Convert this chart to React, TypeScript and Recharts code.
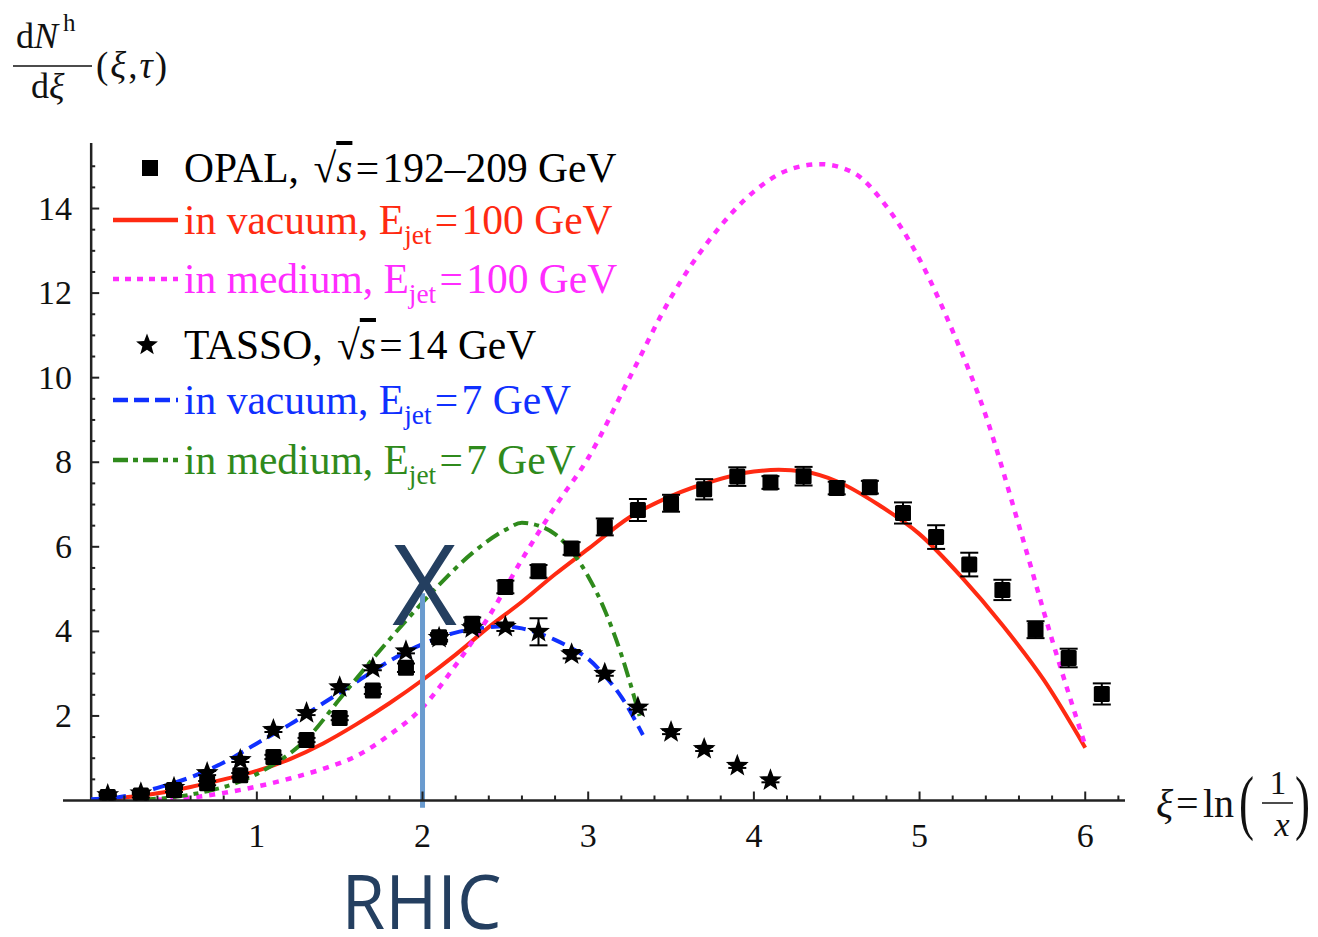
import React from 'react';
import {
  ComposedChart,
  Line,
  Scatter,
  XAxis,
  YAxis,
  ErrorBar,
  ReferenceLine,
  Legend,
  Label,
} from 'recharts';

// OPAL data, sqrt(s) = 192-209 GeV
const opalX = [0.1, 0.3, 0.5, 0.7, 0.9, 1.1, 1.3, 1.5, 1.7, 1.9, 2.1, 2.3, 2.5, 2.7, 2.9, 3.1, 3.3, 3.5, 3.7, 3.9, 4.1, 4.3, 4.5, 4.7, 4.9, 5.1, 5.3, 5.5, 5.7, 5.9, 6.1];
const opalY = [0.08, 0.12, 0.25, 0.41, 0.6, 1.03, 1.43, 1.95, 2.6, 3.14, 3.86, 4.18, 5.05, 5.42, 5.96, 6.47, 6.87, 7.03, 7.36, 7.66, 7.52, 7.67, 7.39, 7.41, 6.8, 6.23, 5.58, 4.98, 4.04, 3.37, 2.52];
const opalErr = [0.05, 0.05, 0.05, 0.05, 0.05, 0.05, 0.05, 0.05, 0.08, 0.1, 0.1, 0.15, 0.15, 0.15, 0.15, 0.2, 0.26, 0.2, 0.24, 0.22, 0.15, 0.22, 0.15, 0.15, 0.25, 0.28, 0.28, 0.24, 0.2, 0.22, 0.25];

// TASSO data, sqrt(s) = 14 GeV
const tassoX = [0.1, 0.3, 0.5, 0.7, 0.9, 1.1, 1.3, 1.5, 1.7, 1.9, 2.1, 2.3, 2.5, 2.7, 2.9, 3.1, 3.3, 3.5, 3.7, 3.9, 4.1];
const tassoY = [0.13, 0.17, 0.3, 0.65, 0.96, 1.67, 2.07, 2.68, 3.13, 3.53, 3.85, 4.08, 4.11, 3.99, 3.46, 3.0, 2.2, 1.62, 1.22, 0.82, 0.48];
const tassoErr = [0.03, 0.03, 0.03, 0.05, 0.05, 0.05, 0.05, 0.05, 0.05, 0.05, 0.05, 0.1, 0.1, 0.32, 0.1, 0.05, 0.05, 0.05, 0.05, 0.05, 0.05];

// in vacuum, Ejet = 100 GeV
const vac100X = [0.05, 0.2, 0.4, 0.6, 0.8, 1.0, 1.2, 1.4, 1.6, 1.8, 2.0, 2.2, 2.4, 2.6, 2.8, 3.0, 3.25, 3.5, 3.75, 4.0, 4.15, 4.3, 4.5, 4.75, 5.0, 5.25, 5.5, 5.75, 6.0];
const vac100Y = [0.0, 0.07, 0.17, 0.32, 0.5, 0.7, 0.98, 1.35, 1.8, 2.3, 2.85, 3.45, 4.1, 4.7, 5.35, 5.95, 6.7, 7.2, 7.55, 7.78, 7.82, 7.78, 7.55, 7.0, 6.3, 5.3, 4.15, 2.85, 1.25];

// in medium, Ejet = 100 GeV
const med100X = [0.4, 0.6, 0.8, 1.0, 1.2, 1.4, 1.6, 1.8, 2.0, 2.2, 2.4, 2.6, 2.8, 3.0, 3.25, 3.5, 3.75, 4.0, 4.2, 4.4, 4.6, 4.8, 5.0, 5.2, 5.4, 5.6, 5.8, 6.0];
const med100Y = [0.02, 0.07, 0.18, 0.33, 0.52, 0.75, 1.05, 1.55, 2.2, 3.2, 4.35, 5.7, 6.95, 8.1, 10.0, 11.9, 13.35, 14.4, 14.9, 15.05, 14.85, 14.05, 12.8, 11.1, 9.1, 6.5, 3.8, 1.3];

// in vacuum, Ejet = 7 GeV
const vac7X = [0.0, 0.2, 0.4, 0.6, 0.8, 1.0, 1.2, 1.4, 1.6, 1.8, 2.0, 2.2, 2.4, 2.5, 2.6, 2.8, 2.9, 3.0, 3.1, 3.2, 3.33];
const vac7Y = [0.03, 0.1, 0.3, 0.55, 0.9, 1.35, 1.8, 2.3, 2.8, 3.3, 3.7, 3.97, 4.1, 4.12, 4.07, 3.8, 3.6, 3.35, 2.95, 2.45, 1.55];

// in medium, Ejet = 7 GeV
const med7X = [0.3, 0.5, 0.7, 0.9, 1.1, 1.3, 1.5, 1.7, 1.9, 2.1, 2.3, 2.5, 2.6, 2.7, 2.8, 2.9, 3.0, 3.1, 3.2, 3.31];
const med7Y = [0.02, 0.08, 0.22, 0.45, 0.85, 1.45, 2.4, 3.35, 4.25, 5.1, 5.85, 6.4, 6.57, 6.5, 6.3, 5.9, 5.3, 4.5, 3.45, 2.0];

const xTicks = [0.2, 0.4, 0.6, 0.8, 1, 1.2, 1.4, 1.6, 1.8, 2, 2.2, 2.4, 2.6, 2.8, 3, 3.2, 3.4, 3.6, 3.8, 4, 4.2, 4.4, 4.6, 4.8, 5, 5.2, 5.4, 5.6, 5.8, 6, 6.2];
const yTicks = [0.5, 1, 1.5, 2, 2.5, 3, 3.5, 4, 4.5, 5, 5.5, 6, 6.5, 7, 7.5, 8, 8.5, 9, 9.5, 10, 10.5, 11, 11.5, 12, 12.5, 13, 13.5, 14, 14.5, 15];

const rhicX = 2;

const pts = (xs: number[], ys: number[], errs?: number[]) =>
  xs.map((x, i) => ({ x, y: ys[i], err: errs ? errs[i] : 0 }));

const opalData = pts(opalX, opalY, opalErr);
const tassoData = pts(tassoX, tassoY, tassoErr);
const vac100Data = pts(vac100X, vac100Y);
const med100Data = pts(med100X, med100Y);
const vac7Data = pts(vac7X, vac7Y);
const med7Data = pts(med7X, med7Y);

const serif = '"Liberation Serif", "Times New Roman", serif';
const RED = '#ff2a12';
const MAGENTA = '#ff2cff';
const BLUE = '#1030ff';
const GREEN = '#2f8a1c';
const NAVY = '#243f60';
const Y_AXIS_OFFSET = 28.2;

const starPoints = (cx: number, cy: number, r: number) => {
  const p: string[] = [];
  for (let k = 0; k < 10; k++) {
    const rr = k % 2 === 0 ? r : r * 0.42;
    const a = -Math.PI / 2 + (k * Math.PI) / 5;
    p.push(`${cx + rr * Math.cos(a)},${cy + rr * Math.sin(a)}`);
  }
  return p.join(' ');
};

const SquareShape = (p: any) => (
  <rect x={p.cx - 8} y={p.cy - 8} width={16} height={16} rx={1.5} fill="#000" />
);
const StarShape = (p: any) => <polygon points={starPoints(p.cx, p.cy, 12)} fill="#000" />;

function XTick(props: any) {
  const { x, y, payload } = props;
  const v = payload.value;
  const major = Math.abs(v - Math.round(v)) < 1e-6;
  return (
    <g>
      <line x1={x} x2={x} y1={y} y2={y - (major ? 9 : 5)} stroke="#222" strokeWidth={2} />
      {major && (
        <text x={x} y={y + 46} textAnchor="middle" style={{ fontFamily: serif }} fontSize={34} fill="#111">
          {Math.round(v)}
        </text>
      )}
    </g>
  );
}

function YTick(props: any) {
  const { x, y, payload } = props;
  const v = payload.value;
  const major = Math.abs(v / 2 - Math.round(v / 2)) < 1e-6;
  const ax = x + Y_AXIS_OFFSET;
  return (
    <g>
      <line x1={ax} x2={ax + (major ? 8 : 4)} y1={y} y2={y} stroke="#222" strokeWidth={2} />
      {major && (
        <text x={x + 9} y={y + 11} textAnchor="end" style={{ fontFamily: serif }} fontSize={34} fill="#111">
          {v}
        </text>
      )}
    </g>
  );
}

const YTitle = () => (
  <g style={{ fontFamily: serif }} fill="#111">
    <text x={16} y={48} fontSize={36}>
      d<tspan fontStyle="italic">N</tspan>
    </text>
    <text x={63} y={31} fontSize={25}>h</text>
    <line x1={13} x2={92} y1={66} y2={66} stroke="#111" strokeWidth={1.6} />
    <text x={31} y={98} fontSize={36}>
      d<tspan fontStyle="italic">ξ</tspan>
    </text>
    <text x={96} y={78} fontSize={37} letterSpacing={2}>
      (<tspan fontStyle="italic">ξ</tspan>,<tspan fontStyle="italic">τ</tspan>)
    </text>
  </g>
);

const XTitle = () => (
  <g style={{ fontFamily: serif }} fill="#111">
    <text x={1156} y={817} fontSize={40} fontStyle="italic">ξ</text>
    <text x={1176} y={817} fontSize={40}>=</text>
    <text x={1203} y={817} fontSize={40}>ln</text>
    <text x={1239} y={826} fontSize={72} textLength={15} lengthAdjust="spacingAndGlyphs">(</text>
    <text x={1278} y={794} fontSize={33} textAnchor="middle">1</text>
    <line x1={1262} x2={1293} y1={803} y2={803} stroke="#111" strokeWidth={1.5} />
    <text x={1282} y={836} fontSize={34} textAnchor="middle" fontStyle="italic">x</text>
    <text x={1295} y={826} fontSize={72} textLength={15} lengthAdjust="spacingAndGlyphs">)</text>
  </g>
);

const RhicLabel = (props: any) => {
  const cx = props.viewBox ? props.viewBox.x : 421;
  return (
    <g style={{ fontFamily: '"Open Sans", "Noto Sans", sans-serif' }} fill={NAVY}>
      <text x={cx + 2} y={625} fontSize={112} textAnchor="middle">X</text>
      <text x={cx - 1} y={929} fontSize={75} textAnchor="middle" textLength={160} lengthAdjust="spacingAndGlyphs">
        RHIC
      </text>
    </g>
  );
};

const Eq = () => <span style={{ margin: '0 0.08em' }}>=</span>;

const Ejet = ({ v }: { v: string }) => (
  <>
    E<sub style={{ fontSize: '0.66em', verticalAlign: '-0.38em', lineHeight: 0 }}>jet</sub>
    <Eq />
    {v} GeV
  </>
);

const RootS = () => (
  <>
    <span style={{ marginLeft: '0.1em' }}>√</span>
    <span style={{ textDecoration: 'overline', fontStyle: 'italic' }}>s</span>
  </>
);

const legendRows = [
  { kind: 'square', color: '#000', label: <>OPAL, <RootS /><Eq />192–209 GeV</> },
  { kind: 'solid', color: RED, label: <>in vacuum, <Ejet v="100" /></> },
  { kind: 'dotted', color: MAGENTA, label: <>in medium, <Ejet v="100" /></> },
  { kind: 'star', color: '#000', label: <>TASSO, <RootS /><Eq />14 GeV</> },
  { kind: 'dashed', color: BLUE, label: <>in vacuum, <Ejet v="7" /></> },
  { kind: 'dashdot', color: GREEN, label: <>in medium, <Ejet v="7" /></> },
];

// vertical centre of each legend row, relative to the first
const legendRowY = [0, 52, 111, 177, 232, 292];

const dashFor: Record<string, string | undefined> = {
  solid: undefined,
  dotted: '6 6',
  dashed: '15 6',
  dashdot: '15 5 5 5',
};

const LegendContent = () => (
  <div style={{ position: 'relative', fontFamily: serif, fontSize: 41.5, height: 340 }}>
    {legendRows.map((r, i) => (
      <div
        key={i}
        style={{
          position: 'absolute',
          left: 0,
          top: legendRowY[i],
          height: 58,
          display: 'flex',
          alignItems: 'center',
          whiteSpace: 'nowrap',
        }}
      >
        <svg width={72} height={24} style={{ flex: 'none' }}>
          {r.kind === 'square' && <rect x={34} y={4} width={16} height={16} fill="#000" />}
          {r.kind === 'star' && <polygon points={starPoints(39, 12, 11.5)} fill="#000" />}
          {r.kind !== 'square' && r.kind !== 'star' && (
            <line x1={5} x2={70} y1={12} y2={12} stroke={r.color} strokeWidth={4.5} strokeDasharray={dashFor[r.kind]} />
          )}
        </svg>
        <span style={{ color: r.color, marginLeft: 4 }}>{r.label}</span>
      </div>
    ))}
  </div>
);

export default function App() {
  return (
    <div style={{ position: 'fixed', left: 0, top: 0, width: 1318, height: 937, background: '#fff' }}>
      <ComposedChart width={1318} height={937} margin={{ top: 143, right: 193, bottom: 76.5, left: 23 }}>
        <XAxis
          type="number"
          dataKey="x"
          domain={[-0.17, 6.24]}
          ticks={xTicks}
          interval={0}
          tick={<XTick />}
          tickLine={false}
          tickSize={0}
          tickMargin={0}
          axisLine={{ stroke: '#222', strokeWidth: 2.5 }}
          height={60}
          allowDataOverflow
        >
          <Label content={<XTitle />} />
        </XAxis>
        <YAxis
          type="number"
          domain={[0, 15.55]}
          ticks={yTicks}
          interval={0}
          tick={<YTick />}
          tickLine={false}
          tickSize={0}
          tickMargin={0}
          axisLine={false}
          width={40}
          allowDataOverflow
        >
          <Label content={<YTitle />} />
        </YAxis>
        <ReferenceLine x={0} stroke="#222" strokeWidth={2.5} />
        <Legend
          layout="vertical"
          align="center"
          verticalAlign="middle"
          content={<LegendContent />}
          wrapperStyle={{ left: 108, top: 139, width: 660 }}
        />
        <Line data={vac100Data} dataKey="y" type="monotone" stroke={RED} strokeWidth={4} dot={false} isAnimationActive={false} />
        <Line data={med100Data} dataKey="y" type="monotone" stroke={MAGENTA} strokeWidth={4.5} strokeDasharray="6 7" dot={false} isAnimationActive={false} />
        <Line data={vac7Data} dataKey="y" type="monotone" stroke={BLUE} strokeWidth={4} strokeDasharray="14 7" dot={false} isAnimationActive={false} />
        <Line data={med7Data} dataKey="y" type="monotone" stroke={GREEN} strokeWidth={4} strokeDasharray="15 6 5 6" dot={false} isAnimationActive={false} />
        <Scatter data={opalData} dataKey="y" shape={SquareShape} isAnimationActive={false}>
          <ErrorBar dataKey="err" direction="y" width={9} strokeWidth={2} stroke="#000" />
        </Scatter>
        <Scatter data={tassoData} dataKey="y" shape={StarShape} isAnimationActive={false}>
          <ErrorBar dataKey="err" direction="y" width={9} strokeWidth={2} stroke="#000" />
        </Scatter>
        <ReferenceLine
          segment={[{ x: rhicX, y: -0.17 }, { x: rhicX, y: 4.9 }]}
          stroke="#6a9bcf"
          strokeWidth={5}
          ifOverflow="visible"
          label={<RhicLabel />}
        />
      </ComposedChart>
    </div>
  );
}
